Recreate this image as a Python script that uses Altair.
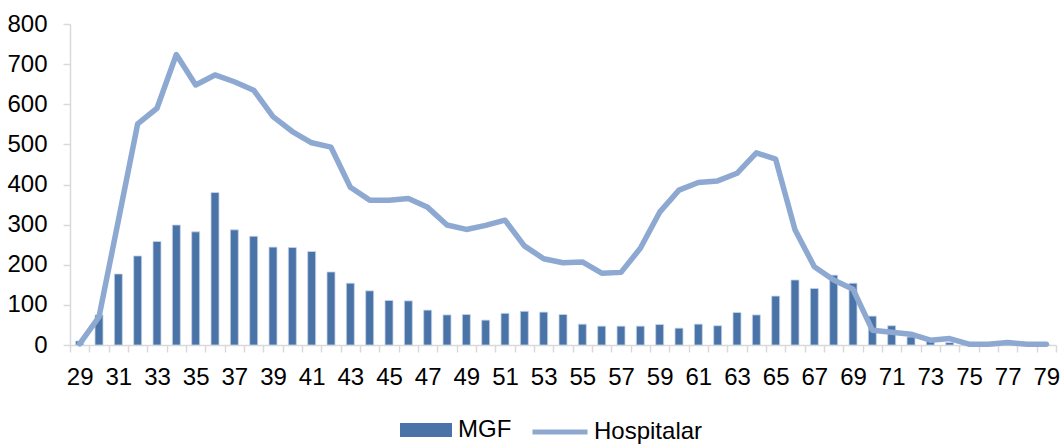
import altair as alt
import pandas as pd

# Age (years) on the x axis
ages = list(range(29, 80))

# MGF counts per age
mgf = [10, 75, 177, 222, 258, 299, 282, 380, 287, 271,
       244, 243, 233, 182, 154, 135, 111, 110, 87, 75,
       76, 62, 79, 84, 82, 76, 52, 47, 47, 47,
       51, 42, 52, 48, 81, 75, 122, 162, 141, 174,
       154, 72, 48, 20, 10, 6, 0, 0, 0, 0, 0]

# Hospitalar counts per age
hospitalar = [3, 70, 310, 551, 590, 724, 648, 673, 656, 635,
              569, 532, 504, 493, 393, 361, 361, 365, 343, 299,
              288, 298, 311, 247, 215, 205, 207, 179, 181, 241,
              331, 386, 405, 409, 428, 479, 463, 287, 195, 162,
              139, 37, 32, 27, 12, 16, 2, 2, 6, 2, 2]

bar_color = "#4a74a8"
line_color = "#8ea9d1"

FONT = "Liberation Sans, Arial"

bars_df = pd.DataFrame({"age": ages, "value": mgf, "series": "MGF"})
line_df = pd.DataFrame({"age": ages, "value": hospitalar, "series": "Hospitalar"})

x_enc = alt.X(
    "age:O",
    title=None,
    scale=alt.Scale(paddingInner=0, paddingOuter=0),
    axis=alt.Axis(
        labelAngle=0,
        labelExpr="datum.value % 2 == 1 ? datum.label : ''",
        tickBand="extent",
        tickSize=7,
        tickColor="#d9d9d9",
        domainColor="#d9d9d9",
        domainWidth=1.5,
        tickWidth=1.5,
        labelPadding=13,
        labelFontSize=24,
        labelColor="#000000",
        labelFont=FONT,
    ),
)

y_enc = alt.Y(
    "value:Q",
    title=None,
    scale=alt.Scale(domain=[0, 800], nice=False),
    axis=alt.Axis(
        values=[0, 100, 200, 300, 400, 500, 600, 700, 800],
        grid=False,
        tickSize=7,
        tickColor="#d9d9d9",
        domainColor="#d9d9d9",
        domainWidth=1.5,
        tickWidth=1.5,
        labelPadding=16,
        labelFontSize=24,
        labelColor="#000000",
        labelFont=FONT,
    ),
)

legend_common = dict(
    title=None,
    orient="none",
    direction="horizontal",
    labelFontSize=24,
    labelFont=FONT,
    labelColor="#000000",
    symbolOpacity=1,
    padding=0,
)

bar_legend = alt.Legend(
    legendX=330,
    legendY=380,
    symbolType="M-1,-0.27H1V0.27H-1Z",
    symbolSize=2704,
    symbolStrokeWidth=0,
    labelOffset=6,
    **legend_common,
)

line_legend = alt.Legend(
    legendX=460,
    legendY=378,
    symbolType="stroke",
    symbolSize=3025,
    symbolStrokeWidth=5,
    labelOffset=4,
    **legend_common,
)

bars = alt.Chart(bars_df).mark_bar(
    size=8, stroke="#c9d6ea", strokeWidth=0.8
).encode(
    x=x_enc,
    y=y_enc,
    color=alt.Color("series:N", scale=alt.Scale(domain=["MGF"], range=[bar_color]), legend=bar_legend),
)

line = alt.Chart(line_df).mark_line(
    strokeWidth=5.5, strokeCap="round", strokeJoin="round"
).encode(
    x=x_enc,
    y=y_enc,
    color=alt.Color("series:N", scale=alt.Scale(domain=["Hospitalar"], range=[line_color]), legend=line_legend),
)

chart = (
    alt.layer(bars, line)
    .resolve_scale(color="independent")
    .resolve_legend(color="independent")
    .properties(
        width=986,
        height=321,
        autosize=alt.AutoSizeParams(type="none"),
        padding={"left": 70, "top": 24, "right": 4, "bottom": 99},
        background="#ffffff",
    )
    .configure_view(stroke=None)
)

chart.save("out.html", embed_options={"renderer": "svg", "actions": False})
